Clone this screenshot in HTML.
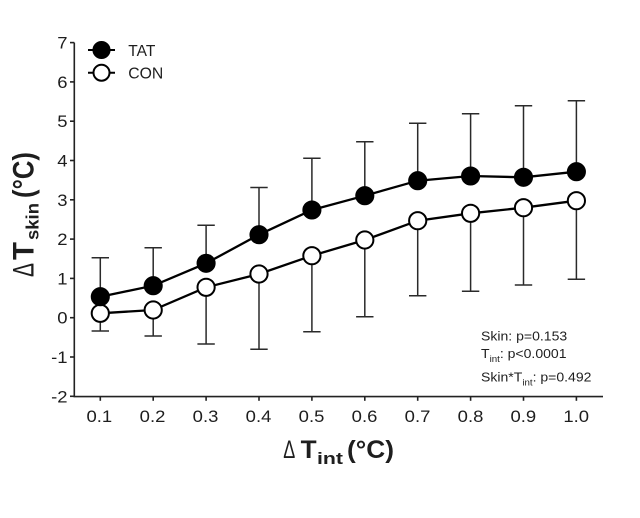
<!DOCTYPE html>
<html>
<head>
<meta charset="utf-8">
<style>
  html, body { margin: 0; padding: 0; background: #ffffff; }
  svg { display: block; }
  text { font-family: "Liberation Sans", Arial, sans-serif; fill: #1e1e1e; }
</style>
</head>
<body>
<svg width="640" height="518" viewBox="0 0 640 518" xmlns="http://www.w3.org/2000/svg">
  <rect x="0" y="0" width="640" height="518" fill="#ffffff"/>

  <!-- Axes -->
  <g stroke="#222" stroke-width="1.6" fill="none">
    <line x1="74.3" y1="42.6" x2="74.3" y2="396.6"/>
    <line x1="73.5" y1="396.6" x2="603" y2="396.6"/>
    <!-- y ticks -->
    <line x1="70" y1="42.6" x2="74.3" y2="42.6"/>
    <line x1="70" y1="81.9" x2="74.3" y2="81.9"/>
    <line x1="70" y1="121.2" x2="74.3" y2="121.2"/>
    <line x1="70" y1="160.5" x2="74.3" y2="160.5"/>
    <line x1="70" y1="199.8" x2="74.3" y2="199.8"/>
    <line x1="70" y1="239.1" x2="74.3" y2="239.1"/>
    <line x1="70" y1="278.4" x2="74.3" y2="278.4"/>
    <line x1="70" y1="317.7" x2="74.3" y2="317.7"/>
    <line x1="70" y1="357.0" x2="74.3" y2="357.0"/>
    <line x1="70" y1="396.3" x2="74.3" y2="396.3"/>
    <!-- x ticks -->
    <line x1="100.3" y1="396.6" x2="100.3" y2="400.8"/>
    <line x1="153.2" y1="396.6" x2="153.2" y2="400.8"/>
    <line x1="206.1" y1="396.6" x2="206.1" y2="400.8"/>
    <line x1="259.0" y1="396.6" x2="259.0" y2="400.8"/>
    <line x1="311.9" y1="396.6" x2="311.9" y2="400.8"/>
    <line x1="364.8" y1="396.6" x2="364.8" y2="400.8"/>
    <line x1="417.7" y1="396.6" x2="417.7" y2="400.8"/>
    <line x1="470.6" y1="396.6" x2="470.6" y2="400.8"/>
    <line x1="523.5" y1="396.6" x2="523.5" y2="400.8"/>
    <line x1="576.4" y1="396.6" x2="576.4" y2="400.8"/>
  </g>

  <!-- Y tick labels -->
  <g font-size="16.5" text-anchor="end">
    <text transform="translate(67.5,48.6) scale(1.12,1)">7</text>
    <text transform="translate(67.5,87.9) scale(1.12,1)">6</text>
    <text transform="translate(67.5,127.2) scale(1.12,1)">5</text>
    <text transform="translate(67.5,166.5) scale(1.12,1)">4</text>
    <text transform="translate(67.5,205.8) scale(1.12,1)">3</text>
    <text transform="translate(67.5,245.1) scale(1.12,1)">2</text>
    <text transform="translate(67.5,284.4) scale(1.12,1)">1</text>
    <text transform="translate(67.5,323.7) scale(1.12,1)">0</text>
    <text transform="translate(67.5,363.0) scale(1.12,1)">-1</text>
    <text transform="translate(67.5,402.3) scale(1.12,1)">-2</text>
  </g>

  <!-- X tick labels -->
  <g font-size="16.5" text-anchor="middle">
    <text transform="translate(99.3,421.8) scale(1.12,1)">0.1</text>
    <text transform="translate(152.5,421.8) scale(1.12,1)">0.2</text>
    <text transform="translate(205.5,421.8) scale(1.12,1)">0.3</text>
    <text transform="translate(258.5,421.8) scale(1.12,1)">0.4</text>
    <text transform="translate(311.5,421.8) scale(1.12,1)">0.5</text>
    <text transform="translate(364.5,421.8) scale(1.12,1)">0.6</text>
    <text transform="translate(417.5,421.8) scale(1.12,1)">0.7</text>
    <text transform="translate(470.5,421.8) scale(1.12,1)">0.8</text>
    <text transform="translate(523.3,421.8) scale(1.12,1)">0.9</text>
    <text transform="translate(576.2,421.8) scale(1.12,1)">1.0</text>
  </g>

  <!-- X axis label -->
  <text x="283.3" y="458" font-size="25" textLength="12" lengthAdjust="spacingAndGlyphs">Δ</text>
  <text x="300.7" y="458" font-size="25" font-weight="bold" textLength="16" lengthAdjust="spacingAndGlyphs">T</text>
  <text x="317" y="464" font-size="17" font-weight="bold" textLength="26" lengthAdjust="spacingAndGlyphs">int</text>
  <text x="347" y="458" font-size="25" font-weight="bold" textLength="47" lengthAdjust="spacingAndGlyphs">(°C)</text>

  <!-- Y axis label (rotated) -->
  <text transform="translate(33.3,277) scale(1.2,1) rotate(-90)" font-size="25" textLength="14" lengthAdjust="spacingAndGlyphs">Δ</text>
  <text transform="translate(33.3,260) scale(1.2,1) rotate(-90)" font-size="25" font-weight="bold" textLength="18" lengthAdjust="spacingAndGlyphs">T</text>
  <text transform="translate(38.3,240) scale(1.2,1) rotate(-90)" font-size="15" font-weight="bold" textLength="37" lengthAdjust="spacingAndGlyphs">skin</text>
  <text transform="translate(33.3,198) scale(1.2,1) rotate(-90)" font-size="25" font-weight="bold" textLength="46" lengthAdjust="spacingAndGlyphs">(°C)</text>

  <!-- Error bars TAT (upward) -->
  <g stroke="#2a2a2a" stroke-width="1.5" fill="none">
    <path d="M100.3 296.7 V257.7 M91.6 257.7 H109"/>
    <path d="M153.2 285.7 V247.7 M144.5 247.7 H161.9"/>
    <path d="M206.1 263.3 V225.3 M197.4 225.3 H214.8"/>
    <path d="M259.0 234.7 V187.5 M250.3 187.5 H267.7"/>
    <path d="M311.9 210 V158.3 M303.2 158.3 H320.6"/>
    <path d="M364.8 195.7 V141.7 M356.1 141.7 H373.5"/>
    <path d="M417.7 180.7 V123.3 M409 123.3 H426.4"/>
    <path d="M470.6 176 V113.7 M461.9 113.7 H479.3"/>
    <path d="M523.5 177.3 V105.7 M514.8 105.7 H532.2"/>
    <path d="M576.4 171.7 V100.7 M567.7 100.7 H585.1"/>
  </g>
  <!-- Error bars CON (downward) -->
  <g stroke="#2a2a2a" stroke-width="1.5" fill="none">
    <path d="M100.3 313.3 V331 M91.6 331 H109"/>
    <path d="M153.2 310 V336 M144.5 336 H161.9"/>
    <path d="M206.1 287.3 V344 M197.4 344 H214.8"/>
    <path d="M259.0 274 V349.3 M250.3 349.3 H267.7"/>
    <path d="M311.9 255.7 V331.7 M303.2 331.7 H320.6"/>
    <path d="M364.8 240 V316.7 M356.1 316.7 H373.5"/>
    <path d="M417.7 220.7 V295.7 M409 295.7 H426.4"/>
    <path d="M470.6 213.3 V291.3 M461.9 291.3 H479.3"/>
    <path d="M523.5 207.7 V285 M514.8 285 H532.2"/>
    <path d="M576.4 200.7 V279.3 M567.7 279.3 H585.1"/>
  </g>

  <!-- Lines -->
  <polyline fill="none" stroke="#000" stroke-width="2.3"
    points="100.3,296.7 153.2,285.7 206.1,263.3 259.0,234.7 311.9,210 364.8,195.7 417.7,180.7 470.6,176 523.5,177.3 576.4,171.7"/>
  <polyline fill="none" stroke="#000" stroke-width="2.3"
    points="100.3,313.3 153.2,310 206.1,287.3 259.0,274 311.9,255.7 364.8,240 417.7,220.7 470.6,213.3 523.5,207.7 576.4,200.7"/>

  <!-- CON markers -->
  <g fill="#fff" stroke="#000" stroke-width="2">
    <circle cx="100.3" cy="313.3" r="8.6"/>
    <circle cx="153.2" cy="310" r="8.6"/>
    <circle cx="206.1" cy="287.3" r="8.6"/>
    <circle cx="259.0" cy="274" r="8.6"/>
    <circle cx="311.9" cy="255.7" r="8.6"/>
    <circle cx="364.8" cy="240" r="8.6"/>
    <circle cx="417.7" cy="220.7" r="8.6"/>
    <circle cx="470.6" cy="213.3" r="8.6"/>
    <circle cx="523.5" cy="207.7" r="8.6"/>
    <circle cx="576.4" cy="200.7" r="8.6"/>
  </g>
  <!-- TAT markers -->
  <g fill="#000" stroke="#000" stroke-width="1.5">
    <circle cx="100.3" cy="296.7" r="8.8"/>
    <circle cx="153.2" cy="285.7" r="8.8"/>
    <circle cx="206.1" cy="263.3" r="8.8"/>
    <circle cx="259.0" cy="234.7" r="8.8"/>
    <circle cx="311.9" cy="210" r="8.8"/>
    <circle cx="364.8" cy="195.7" r="8.8"/>
    <circle cx="417.7" cy="180.7" r="8.8"/>
    <circle cx="470.6" cy="176" r="8.8"/>
    <circle cx="523.5" cy="177.3" r="8.8"/>
    <circle cx="576.4" cy="171.7" r="8.8"/>
  </g>

  <!-- Legend -->
  <line x1="88" y1="50" x2="115" y2="50" stroke="#000" stroke-width="2"/>
  <circle cx="101.5" cy="50" r="8.3" fill="#000" stroke="#000" stroke-width="1.5"/>
  <line x1="88" y1="72.7" x2="115" y2="72.7" stroke="#000" stroke-width="2"/>
  <circle cx="101.5" cy="72.7" r="8" fill="#fff" stroke="#000" stroke-width="2"/>
  <text x="128.3" y="55.8" font-size="16" textLength="27" lengthAdjust="spacingAndGlyphs">TAT</text>
  <text x="128.3" y="78.3" font-size="16" textLength="35" lengthAdjust="spacingAndGlyphs">CON</text>

  <!-- Stats annotation -->
  <g font-size="13">
    <text transform="translate(481,340.5) scale(1.08,1)">Skin: p=0.153</text>
    <text transform="translate(481,358) scale(1.08,1)">T<tspan font-size="9" dy="4">int</tspan><tspan dy="-4">: p&lt;0.0001</tspan></text>
    <text transform="translate(481,381.5) scale(1.08,1)">Skin*T<tspan font-size="9" dy="4">int</tspan><tspan dy="-4">: p=0.492</tspan></text>
  </g>
</svg>
</body>
</html>
